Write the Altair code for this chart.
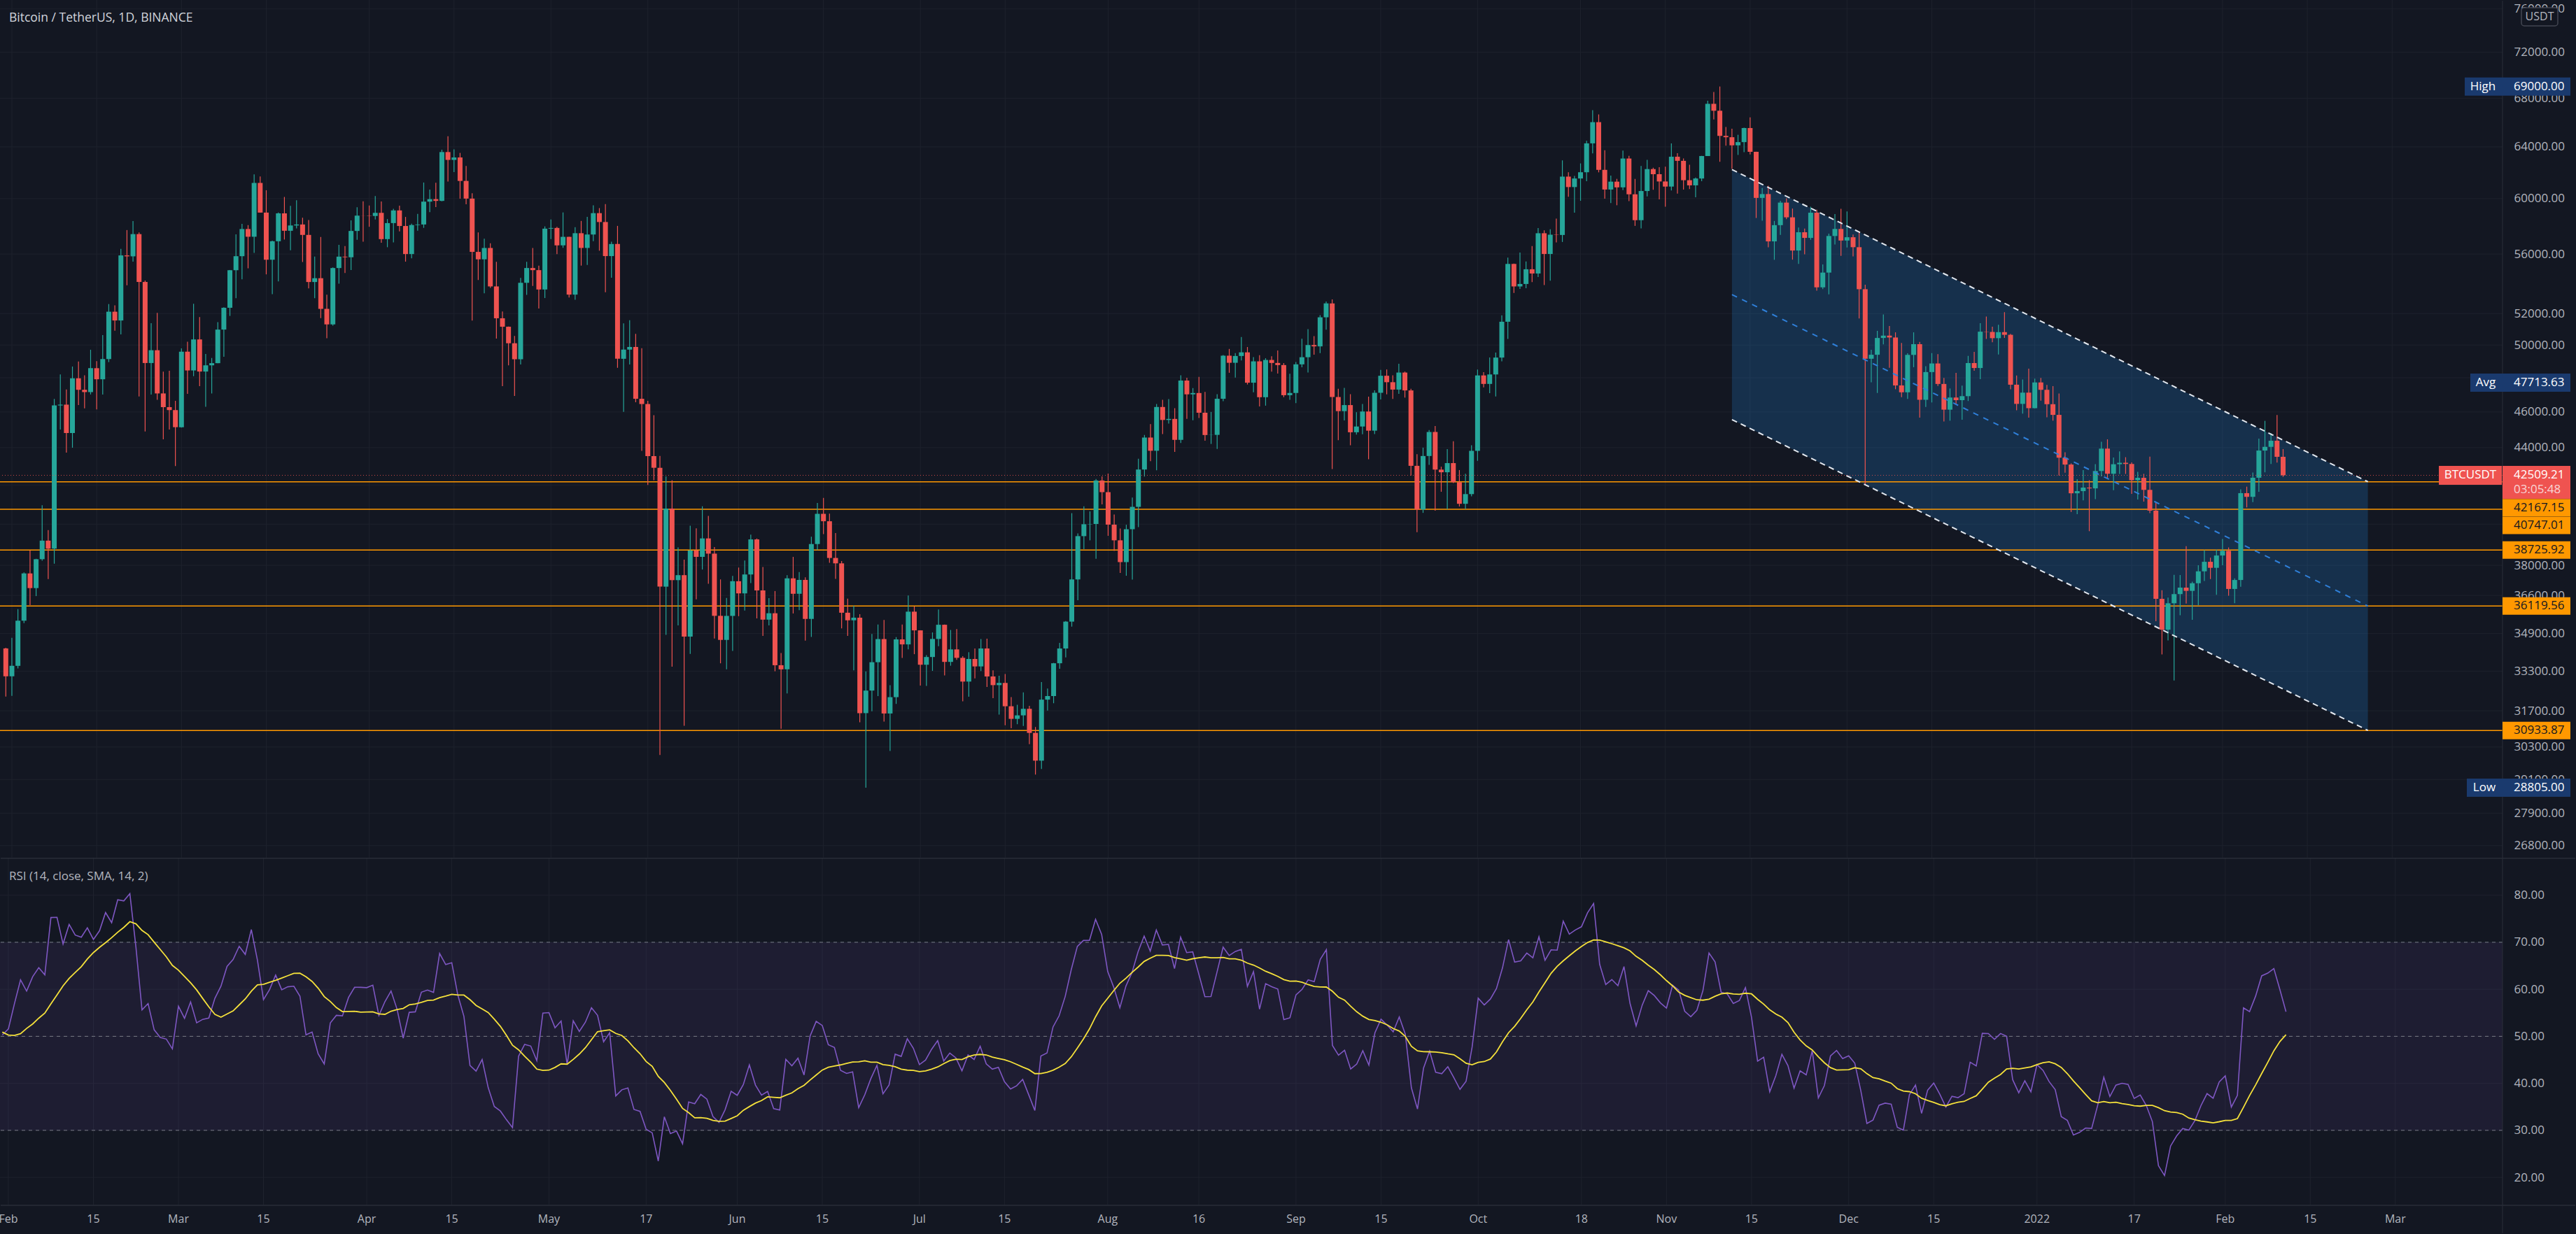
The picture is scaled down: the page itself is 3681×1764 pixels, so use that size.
import altair as alt
import numpy as np
import pandas as pd

# ---------------- style constants ----------------
UP = "#26a69a"
DOWN = "#ef5350"
BG = "#131722"
GRID = "#1e222d"
SEP = "#2a2e39"
TXT = "#b2b5be"
NAVY = "#1a3a6e"
ORANGE = "#ff9800"
FONT = "Open Sans"
W = 3576
H_MAIN = 1226
H_RSI = 496
H_AX = 42
FULL_W = 3681

title_text = "Bitcoin / TetherUS, 1D, BINANCE"
rsi_title = "RSI (14, close, SMA, 14, 2)"
quote_ccy = "USDT"
countdown = "03:05:48"
symbol = "BTCUSDT"

# ---------------- daily candles (BINANCE BTCUSDT) ----------------
first_open = 34262
jan21_c = [33092]
jan21_h = [34288]
jan21_l = [32270]

feb21_c = [33526, 35466, 37618, 36936, 38290, 39186, 38795, 46374, 46420, 44807, 47969, 47287, 47153, 48577,
           47911, 49133, 52119, 51552, 55906, 55841, 57408, 54087, 48891, 49676, 47073, 46276, 46106, 45135]
feb21_h = [34717, 35984, 37662, 38708, 38310, 40955, 39700, 46750, 48200, 47310, 48678, 48985, 48150, 49707,
           49010, 50620, 52618, 52530, 56368, 57700, 58352, 57533, 54183, 51374, 52041, 48370, 48424, 46638]
feb21_l = [32296, 33418, 35362, 36161, 36570, 38215, 37351, 38076, 45000, 43727, 43994, 46400, 46202, 47014,
           46150, 47003, 48947, 50901, 50671, 53863, 55477, 46900, 44892, 47003, 46700, 44454, 45000, 43000]

mar21_c = [49587, 48440, 50349, 48374, 48751, 48882, 50971, 52375, 54884, 55851, 57773, 57221, 61188, 58968, 55605,
           56900, 58912, 57648, 58030, 58102, 57351, 54083, 54340, 52303, 51301, 55032, 55820, 55777, 57635, 58746, 58740]
mar21_h = [49790, 50200, 52640, 51773, 49448, 49200, 51450, 52402, 54900, 57387, 58150, 58058, 61844, 61683, 60633,
           56938, 58981, 60129, 59468, 59880, 58592, 58430, 55830, 57200, 53230, 55073, 56640, 56559, 58405, 59368, 59800]
mar21_l = [45115, 47047, 48100, 47500, 46300, 47070, 48880, 49274, 51845, 53005, 54269, 55013, 56078, 58966, 54600,
           53271, 54123, 57023, 56270, 57820, 55450, 53650, 53000, 51700, 50427, 51225, 53966, 54691, 54901, 57000, 56873]

apr21_c = [58720, 58950, 57051, 58202, 59129, 57992, 56000, 58060, 58101, 59779, 59964, 59835, 63588, 62969, 63161,
           61342, 60006, 56150, 55633, 56425, 53787, 51694, 51152, 50110, 49121, 54030, 55034, 54889, 53581, 57800]
apr21_h = [59490, 60200, 59791, 58493, 59250, 59475, 58650, 58154, 58879, 61220, 60689, 61200, 63774, 64854, 63800,
           63520, 62500, 60400, 57526, 57076, 56757, 55460, 52130, 51166, 50567, 54357, 55460, 56428, 55200, 57963]
apr21_l = [57935, 58460, 56800, 56478, 56817, 57600, 55473, 55700, 57654, 57859, 59002, 59377, 59805, 61300, 62019,
           60000, 59580, 51541, 54221, 53329, 53695, 50400, 47500, 48753, 46930, 48800, 53222, 53813, 52330, 53013]

may21_c = [57850, 56610, 57213, 53241, 57473, 56428, 57380, 58928, 58280, 55859, 56704, 49150, 49716, 49880, 46760,
           46456, 43538, 42910, 37002, 40782, 37304, 37536, 34770, 38705, 38402, 39294, 38556, 35681, 34627, 35678, 37254]
may21_h = [58458, 57937, 58981, 57200, 57911, 58360, 58650, 59500, 59300, 59600, 56870, 58000, 51367, 51569, 50700,
           49800, 46643, 45812, 43546, 42451, 42250, 38856, 38270, 39920, 39791, 40900, 40411, 38877, 37338, 36488, 37499]
may21_l = [57052, 56000, 56435, 53046, 52900, 55200, 55241, 56900, 56235, 53400, 54370, 48600, 46000, 48805, 46555,
           43825, 42001, 42250, 30000, 34850, 33488, 35256, 31111, 34031, 36419, 37800, 37134, 34684, 33632, 33379, 34153]

jun21_c = [36693, 37568, 39246, 36829, 35513, 35796, 33552, 33380, 37388, 36675, 37313, 35544, 39020, 40516, 40144,
           38349, 38092, 35820, 35483, 35600, 31608, 32509, 33678, 34663, 31594, 32243, 34649, 34434, 35867, 35041]
jun21_h = [37894, 38225, 39476, 39289, 37918, 36480, 36800, 34068, 37534, 38400, 37680, 37438, 39380, 41064, 41330,
           40527, 39559, 38202, 36457, 36137, 35750, 33298, 34881, 35298, 35500, 32730, 34749, 35297, 36600, 36100]
jun21_l = [35666, 35920, 37170, 35567, 34800, 35258, 33300, 31000, 32396, 35787, 35936, 34600, 34757, 38730, 39506,
           38116, 37365, 35129, 34803, 33336, 31251, 28805, 31683, 32286, 31275, 30151, 31973, 33862, 34225, 34017]

jul21_c = [33572, 33897, 34668, 35287, 33691, 34220, 33862, 32875, 33815, 33502, 34259, 33086, 32730, 32820, 31880,
           31383, 31520, 31778, 30839, 29791, 32144, 32287, 33634, 34259, 35425, 37337, 39406, 39995, 40008, 42235, 41626]
jul21_h = [35036, 33977, 34950, 35967, 35294, 35059, 35100, 33929, 34100, 34262, 34666, 34678, 33340, 33114, 33185,
           32249, 31935, 32435, 31899, 31063, 32858, 32591, 33650, 34500, 35450, 40550, 39542, 40900, 40640, 42316, 42448]
jul21_l = [32711, 32699, 33316, 34357, 33125, 33532, 33777, 32077, 32261, 33004, 33306, 32658, 32202, 31550, 31133,
           31020, 31175, 31108, 30407, 29278, 29482, 31708, 32000, 33401, 33880, 35205, 36383, 38772, 39200, 38313, 41000]

aug21_c = [39975, 39201, 38152, 39747, 40870, 42816, 44556, 43829, 46285, 45543, 45602, 44428, 47834, 47020, 47097,
           45954, 44696, 44705, 46761, 49340, 48905, 49321, 49546, 47707, 48993, 46852, 49078, 48895, 48767, 46970, 47100]
aug21_h = [42599, 40480, 39780, 39969, 41350, 43392, 44700, 45310, 46454, 46700, 46743, 46218, 48144, 48000, 47389,
           48053, 47160, 46000, 47033, 49382, 49757, 49500, 50500, 49875, 49250, 49366, 49185, 49309, 49658, 48888, 48246]
aug21_l = [39422, 38690, 37642, 37508, 37332, 39853, 42446, 43261, 42779, 44750, 45341, 43770, 44250, 45610, 45525,
           45660, 44376, 44203, 43927, 46622, 48300, 48007, 49045, 47600, 47138, 46315, 46361, 48371, 48256, 46853, 46700]

sep21_c = [48810, 49246, 49999, 49915, 51756, 52663, 46863, 46048, 46395, 44850, 45173, 46025, 44940, 47111, 48121,
           47737, 47300, 48314, 47250, 43013, 40734, 43543, 44865, 42810, 42670, 43160, 42147, 41026, 41524, 43824]
sep21_h = [48953, 50392, 51000, 50558, 51900, 52780, 52920, 47350, 47400, 47033, 45986, 46460, 46880, 47250, 48476,
           48500, 48150, 48843, 48372, 47350, 43639, 44000, 44978, 45200, 42966, 43919, 44350, 42787, 42590, 44132]
sep21_l = [46512, 48634, 48318, 49400, 49500, 50969, 42843, 44412, 45513, 44132, 44722, 44742, 43370, 44750, 46719,
           47020, 46750, 47050, 46829, 42500, 39600, 40565, 43069, 40675, 41646, 40750, 42098, 40888, 40753, 41410]

oct21_c = [48141, 47634, 48200, 49224, 51471, 55315, 53785, 53951, 54949, 54659, 57471, 56005, 57367, 57347, 61672,
           60875, 61528, 62009, 64280, 66001, 62193, 60688, 61286, 60852, 63078, 60328, 58413, 60575, 62253, 61859, 61300]
oct21_h = [48495, 48336, 49228, 49536, 51886, 55750, 55338, 56100, 55489, 56561, 57839, 57680, 57750, 58532, 62933,
           62000, 61720, 62695, 64486, 67000, 66639, 63732, 61747, 61500, 63710, 63293, 61496, 62499, 62980, 62359, 62405]
oct21_l = [43283, 47430, 47088, 46891, 49000, 50382, 53357, 53617, 53661, 54080, 54415, 53879, 54167, 56818, 56850,
           60150, 58963, 59844, 61322, 63481, 62000, 60000, 59668, 59510, 60650, 59817, 58000, 57820, 60174, 60673, 59945]

nov21_c = [60911, 63219, 62896, 61396, 61004, 61526, 63273, 67525, 66947, 64882, 64774, 64122, 64380, 65519, 63607,
           60058, 60345, 56891, 58052, 59707, 58622, 56247, 57541, 57138, 58960, 53726, 54721, 57274, 57777, 56951]
nov21_h = [62437, 64270, 63500, 63086, 62595, 61600, 63286, 67789, 68524, 69000, 65600, 65460, 64972, 65550, 66401,
           63617, 60800, 60976, 58357, 59845, 60029, 59266, 57875, 57800, 59398, 59176, 55280, 57445, 58865, 59249]
nov21_l = [59405, 60624, 60382, 60677, 60721, 60111, 61322, 63273, 66222, 62822, 64100, 62278, 63360, 63576, 63400,
           58574, 58373, 56474, 55600, 57353, 58486, 55610, 55317, 55988, 57000, 53500, 53610, 53256, 56666, 55875]

dec21_c = [57185, 56481, 53601, 49152, 49397, 50441, 50588, 50471, 47545, 47140, 49389, 50053, 46702, 48343, 48864,
           47632, 46131, 46834, 46681, 46914, 48889, 48588, 50838, 50821, 50428, 50809, 50640, 47588, 46464, 47120, 46216]
dec21_h = [59053, 57375, 57600, 53904, 49699, 50891, 51936, 51200, 50797, 50125, 49485, 50797, 50189, 48700, 49500,
           49436, 47995, 47365, 48300, 47537, 49328, 49576, 51375, 51810, 51156, 51280, 52088, 50704, 48139, 47900, 48548]
dec21_l = [56458, 55837, 51680, 42000, 47727, 47100, 50039, 48600, 47320, 46852, 46751, 48638, 45672, 46290, 46547,
           47511, 45456, 45500, 46406, 45558, 46630, 48421, 47920, 50384, 50171, 49412, 50450, 47313, 46096, 45900, 45678]

jan22_c = [47722, 47286, 46446, 45832, 43451, 43082, 41566, 41679, 41864, 41822, 42736, 43946, 42592, 43099, 43177,
           43113, 42250, 42375, 41744, 40680, 36445, 35071, 36244, 36660, 36958, 36809, 37160, 37716, 38166, 37881, 38466]
jan22_h = [47954, 47990, 47570, 47505, 47070, 43748, 43145, 42300, 42786, 42248, 43100, 44322, 44458, 43459, 43790,
           43479, 43200, 42691, 42585, 43505, 41100, 36835, 36500, 37550, 37545, 38919, 37234, 38000, 38720, 38360, 38744]
jan22_l = [46208, 46654, 45696, 45502, 42500, 42645, 40610, 40501, 41200, 39650, 41268, 42450, 42311, 41725, 42577,
           42581, 41540, 41250, 41138, 40553, 35440, 34008, 34601, 32917, 35705, 36234, 35507, 36155, 37268, 37351, 36632]

feb22_c = [38691, 36896, 37311, 41574, 41383, 42380, 43840, 44043, 44379, 43500, 42509.21]
feb22_h = [39265, 38855, 37387, 41772, 41913, 42656, 44500, 45492, 44799, 45821, 43920]
feb22_l = [38000, 36586, 36250, 37000, 40843, 41116, 41645, 42666, 43117, 43188, 42427]

# closes before the first visible candle (Dec 2020 - Jan 30 2021), used only to warm up the RSI
warm_dec20 = [18765, 19205, 19446, 18699, 19154, 19346, 19191, 18321, 18553, 18264, 18058, 18803, 19142, 19246, 19418,
              21310, 22806, 23107, 23821, 23455, 22719, 23810, 23232, 23729, 24712, 26493, 26281, 27079, 27385, 28875, 28923]
warm_jan21 = [29331, 32178, 33000, 31988, 33949, 36769, 39432, 40582, 40088, 38150, 35404, 34051, 37372, 39144, 36742,
              35994, 35828, 36631, 35891, 35468, 30850, 32945, 32078, 32259, 32254, 32467, 30366, 33364, 34252, 34262]

# ---------------- drawings / labels ----------------
hline_prices = [42167.15, 40747.01, 38725.92, 36119.56, 30933.87]
hline_offsets = [37, 23, 0, 0, 0]
channel_dates = ["2021-11-12", "2022-02-25"]
channel_top = [62217, 42167.15]
channel_mid = [53242, 36119.56]
channel_bot = [45563, 30933.87]
last_price = 42509.21
stat_names = ["High", "Avg", "Low"]
stat_prices = [69000.00, 47713.63, 28805.00]
stat_box_left = [3522, 3530, 3525]
stat_name_x = [3548, 3552, 3550]

price_ticks = [26800, 27900, 29100, 30300, 31700, 33300, 34900, 36600, 38000, 40000, 42000, 44000, 46000, 48000,
               50000, 52000, 56000, 60000, 64000, 68000, 72000, 76000]
rsi_ticks = [20, 30, 40, 50, 60, 70, 80]
rsi_levels = [70, 50, 30]
date_ticks = ["2021-02-01", "2021-02-15", "2021-03-01", "2021-03-15", "2021-04-01", "2021-04-15", "2021-05-01",
              "2021-05-17", "2021-06-01", "2021-06-15", "2021-07-01", "2021-07-15", "2021-08-01", "2021-08-16",
              "2021-09-01", "2021-09-15", "2021-10-01", "2021-10-18", "2021-11-01", "2021-11-15", "2021-12-01",
              "2021-12-15", "2022-01-01", "2022-01-17", "2022-02-01", "2022-02-15", "2022-03-01"]
date_labels = ["Feb", "15", "Mar", "15", "Apr", "15", "May", "17", "Jun", "15", "Jul", "15", "Aug", "16", "Sep",
               "15", "Oct", "18", "Nov", "15", "Dec", "15", "2022", "17", "Feb", "15", "Mar"]

# ---------------- build table ----------------
closes = (jan21_c + feb21_c + mar21_c + apr21_c + may21_c + jun21_c + jul21_c + aug21_c + sep21_c + oct21_c
          + nov21_c + dec21_c + jan22_c + feb22_c)
highs = (jan21_h + feb21_h + mar21_h + apr21_h + may21_h + jun21_h + jul21_h + aug21_h + sep21_h + oct21_h
         + nov21_h + dec21_h + jan22_h + feb22_h)
lows = (jan21_l + feb21_l + mar21_l + apr21_l + may21_l + jun21_l + jul21_l + aug21_l + sep21_l + oct21_l
        + nov21_l + dec21_l + jan22_l + feb22_l)
dates = pd.date_range("2021-01-31", periods=len(closes), freq="D")
opens = [first_open] + closes[:-1]
df = pd.DataFrame({"date": dates.strftime("%Y-%m-%d"), "open": opens, "close": closes, "high": highs, "low": lows})
df["high"] = df[["high", "open", "close"]].max(axis=1)
df["low"] = df[["low", "open", "close"]].min(axis=1)

# RSI(14) with Wilder smoothing, and its 14-period SMA (indicator definition)
warm = warm_dec20 + warm_jan21
allc = np.array(warm + closes, dtype=float)
delta = np.diff(allc, prepend=np.nan)
gain = np.where(delta > 0, delta, 0.0)
loss = np.where(delta < 0, -delta, 0.0)
n = 14
ag = np.full(len(allc), np.nan)
al = np.full(len(allc), np.nan)
ag[n] = gain[1:n + 1].mean()
al[n] = loss[1:n + 1].mean()
for i in range(n + 1, len(allc)):
    ag[i] = (ag[i - 1] * (n - 1) + gain[i]) / n
    al[i] = (al[i - 1] * (n - 1) + loss[i]) / n
rsi = 100 - 100 / (1 + ag / al)
rsi_ma = pd.Series(rsi).rolling(14).mean().to_numpy()
df["rsi"] = rsi[len(warm):]
df["rsi_ma"] = rsi_ma[len(warm):]

# ---------------- scales / axes ----------------
def dt(s, h=0, m=0):
    return alt.DateTime(year=int(s[:4]), month=int(s[5:7]), date=int(s[8:10]), hours=h, minutes=m, utc=True)

xscale = alt.Scale(type="utc", domain=[dt("2021-01-30", 14, 49), dt("2022-03-18", 15, 36)])
yscale = alt.Scale(type="log", domain=[26400, 76850], nice=False)
rscale = alt.Scale(domain=[14.2, 88.0], nice=False, zero=False)

yax = alt.Axis(orient="right", values=price_ticks, format=".2f", labelColor=TXT, labelFont=FONT, labelFontSize=17,
               labelPadding=16, labelOverlap=False, ticks=False, domain=False, grid=False, title=None)
rax = alt.Axis(orient="right", values=rsi_ticks, format=".2f", labelColor=TXT, labelFont=FONT, labelFontSize=17,
               labelPadding=16, labelOverlap=False, ticks=False, domain=False, grid=False, title=None)

X = alt.X("date:T", scale=xscale, axis=None)

tick_df = pd.DataFrame({"date": date_ticks})
one = pd.DataFrame({"k": [0]})

# ---------------- main price pane ----------------
vgrid_main = alt.Chart(tick_df).mark_rule(color=GRID, strokeWidth=1, clip=True).encode(x=X)
hgrid_main = alt.Chart(pd.DataFrame({"p": price_ticks})).mark_rule(color=GRID, strokeWidth=1, clip=True).encode(
    y=alt.Y("p:Q", scale=yscale, axis=yax))

base = alt.Chart(df).encode(x=X)
col = alt.when(alt.datum.close >= alt.datum.open).then(alt.value(UP)).otherwise(alt.value(DOWN))
wicks = base.mark_rule(strokeWidth=1.2, clip=True).encode(
    y=alt.Y("low:Q", scale=yscale, axis=yax), y2="high:Q", color=col)
bodies = base.mark_bar(size=7, clip=True).encode(
    y=alt.Y("open:Q", scale=yscale, axis=yax), y2="close:Q", color=col)

ch = pd.DataFrame({"date": channel_dates, "top": channel_top, "mid": channel_mid, "bot": channel_bot})
ch_base = alt.Chart(ch).encode(x=X)
ch_fill = ch_base.mark_area(color="#2196f3", opacity=0.2).encode(
    y=alt.Y("bot:Q", scale=yscale, axis=yax), y2="top:Q")
ch_top = ch_base.mark_line(color="#e3e8ef", strokeWidth=2, strokeDash=[8, 6]).encode(
    y=alt.Y("top:Q", scale=yscale, axis=yax))
ch_bot = ch_base.mark_line(color="#e3e8ef", strokeWidth=2, strokeDash=[8, 6]).encode(
    y=alt.Y("bot:Q", scale=yscale, axis=yax))
ch_mid = ch_base.mark_line(color="#2f7fd8", strokeWidth=2, strokeDash=[8, 8]).encode(
    y=alt.Y("mid:Q", scale=yscale, axis=yax))

hl = pd.DataFrame({"price": hline_prices})
hlines = alt.Chart(hl).mark_rule(color=ORANGE, strokeWidth=1.5, clip=True).encode(
    y=alt.Y("price:Q", scale=yscale, axis=yax))

lp = pd.DataFrame({"price": [last_price]})
price_line = alt.Chart(lp).mark_rule(color=DOWN, strokeWidth=1, strokeDash=[1, 3], opacity=0.85, clip=True).encode(
    y=alt.Y("price:Q", scale=yscale, axis=yax))

title = alt.Chart(pd.DataFrame({"t": [title_text]})).mark_text(
    align="left", baseline="middle", font=FONT, fontSize=17.5, color="#d1d4dc").encode(
    x=alt.value(13), y=alt.value(26), text="t:N")


def box(price, x0, x1, color, h=26, dy=0):
    d = pd.DataFrame({"price": [price]})
    return alt.Chart(d).mark_tick(orient="horizontal", size=x1 - x0, thickness=h, color=color, opacity=1,
                                  yOffset=dy).encode(
        x=alt.value((x0 + x1) / 2), y=alt.Y("price:Q", scale=yscale, axis=yax))


def label(price, text, x, color, align="left", dy=0, size=17):
    d = pd.DataFrame({"price": [price], "t": [text]})
    return alt.Chart(d).mark_text(align=align, baseline="middle", font=FONT, fontSize=size, color=color,
                                  yOffset=dy).encode(
        x=alt.value(x), y=alt.Y("price:Q", scale=yscale, axis=yax), text="t:N")


overlays = []
for nm, p, bl, nx in zip(stat_names, stat_prices, stat_box_left, stat_name_x):
    overlays += [box(p, bl, 3673, NAVY), label(p, nm, nx, "#ffffff", align="center"),
                 label(p, f"{p:.2f}", 3592, "#ffffff")]
for p, off in zip(hline_prices, hline_offsets):
    overlays += [box(p, 3576, 3673, ORANGE, h=25, dy=off), label(p, f"{p:.2f}", 3592, BG, dy=off)]
overlays += [box(last_price, 3485, 3575, DOWN, h=27), box(last_price, 3576, 3673, DOWN, h=47, dy=10),
             label(last_price, symbol, 3530, "#ffffff", align="center"),
             label(last_price, f"{last_price:.2f}", 3592, "#ffffff"),
             label(last_price, countdown, 3592, "#f8d6d6", dy=21)]

ccy_box = alt.Chart(pd.DataFrame({"t": [quote_ccy]})).mark_rect(
    fill=BG, stroke="#434651", strokeWidth=1.5, cornerRadius=4).encode(
    x=alt.value(3603), x2=alt.value(3655), y=alt.value(11), y2=alt.value(37))
ccy_txt = alt.Chart(pd.DataFrame({"t": [quote_ccy]})).mark_text(
    align="center", baseline="middle", font=FONT, fontSize=16, color=TXT).encode(
    x=alt.value(3629), y=alt.value(24), text="t:N")

vsep_main = alt.Chart(one).mark_rule(color=SEP, strokeWidth=1).encode(
    x=alt.value(W), y=alt.value(1), y2=alt.value(H_MAIN))
extent_main = alt.Chart(one).mark_rect(opacity=0).encode(
    x=alt.value(0), x2=alt.value(FULL_W), y=alt.value(0), y2=alt.value(H_MAIN))

main = alt.layer(hgrid_main, vgrid_main, ch_fill, hlines, wicks, bodies, ch_top, ch_bot, ch_mid, price_line, title,
                 vsep_main, *overlays, ccy_box, ccy_txt, extent_main).properties(width=W, height=H_MAIN)

# ---------------- RSI pane ----------------
vgrid_rsi = alt.Chart(tick_df).mark_rule(color=GRID, strokeWidth=1, clip=True).encode(x=X)
hgrid_rsi = alt.Chart(pd.DataFrame({"v": rsi_ticks})).mark_rule(color=GRID, strokeWidth=1, clip=True).encode(
    y=alt.Y("v:Q", scale=rscale, axis=rax))
band = alt.Chart(pd.DataFrame({"lo": [30], "hi": [70]})).mark_rect(color="#7e57c2", opacity=0.1).encode(
    y=alt.Y("lo:Q", scale=rscale, axis=rax), y2="hi:Q")
levels = alt.Chart(pd.DataFrame({"v": rsi_levels})).mark_rule(
    color="#787b86", strokeWidth=1, strokeDash=[5, 5], clip=True).encode(y=alt.Y("v:Q", scale=rscale, axis=rax))
rbase = alt.Chart(df).encode(x=X)
rsi_line = rbase.mark_line(color="#7e57c2", strokeWidth=1.6, clip=True).encode(
    y=alt.Y("rsi:Q", scale=rscale, axis=rax))
ma_line = rbase.mark_line(color="#f5e13b", strokeWidth=1.8, clip=True).encode(
    y=alt.Y("rsi_ma:Q", scale=rscale, axis=rax))
rsi_hdr = alt.Chart(pd.DataFrame({"t": [rsi_title]})).mark_text(
    align="left", baseline="middle", font=FONT, fontSize=17, color=TXT).encode(
    x=alt.value(13), y=alt.value(27), text="t:N")
hsep_rsi = alt.Chart(one).mark_rule(color=SEP, strokeWidth=1.5).encode(
    x=alt.value(1), x2=alt.value(FULL_W - 1), y=alt.value(1))
vsep_rsi = alt.Chart(one).mark_rule(color=SEP, strokeWidth=1).encode(
    x=alt.value(W), y=alt.value(0), y2=alt.value(H_RSI))
extent_rsi = alt.Chart(one).mark_rect(opacity=0).encode(
    x=alt.value(0), x2=alt.value(FULL_W), y=alt.value(0), y2=alt.value(H_RSI))
rsi_pane = alt.layer(hgrid_rsi, vgrid_rsi, band, levels, rsi_line, ma_line, rsi_hdr, hsep_rsi, vsep_rsi,
                     extent_rsi).properties(width=W, height=H_RSI)

# ---------------- time axis strip ----------------
tl = pd.DataFrame({"date": date_ticks, "label": date_labels})
tick_text = alt.Chart(tl).mark_text(align="center", baseline="middle", font=FONT, fontSize=16, color=TXT,
                                    clip=True).encode(
    x=alt.X("date:T", scale=xscale, axis=None), y=alt.value(21), text="label:N")
hsep_ax = alt.Chart(one).mark_rule(color=SEP, strokeWidth=1.5).encode(
    x=alt.value(1), x2=alt.value(FULL_W - 1), y=alt.value(1))
vsep_ax = alt.Chart(one).mark_rule(color=SEP, strokeWidth=1).encode(
    x=alt.value(W), y=alt.value(0), y2=alt.value(H_AX - 1))
extent_ax = alt.Chart(one).mark_rect(opacity=0).encode(
    x=alt.value(0), x2=alt.value(FULL_W), y=alt.value(0), y2=alt.value(H_AX))
strip = alt.layer(tick_text, hsep_ax, vsep_ax, extent_ax).properties(width=W, height=H_AX)

chart = alt.vconcat(main, rsi_pane, strip, spacing=0, bounds="flush").properties(
    background=BG, padding=0).configure(font=FONT).configure_view(strokeWidth=0)

chart.save("out.html", embed_options={"renderer": "svg", "actions": False})
